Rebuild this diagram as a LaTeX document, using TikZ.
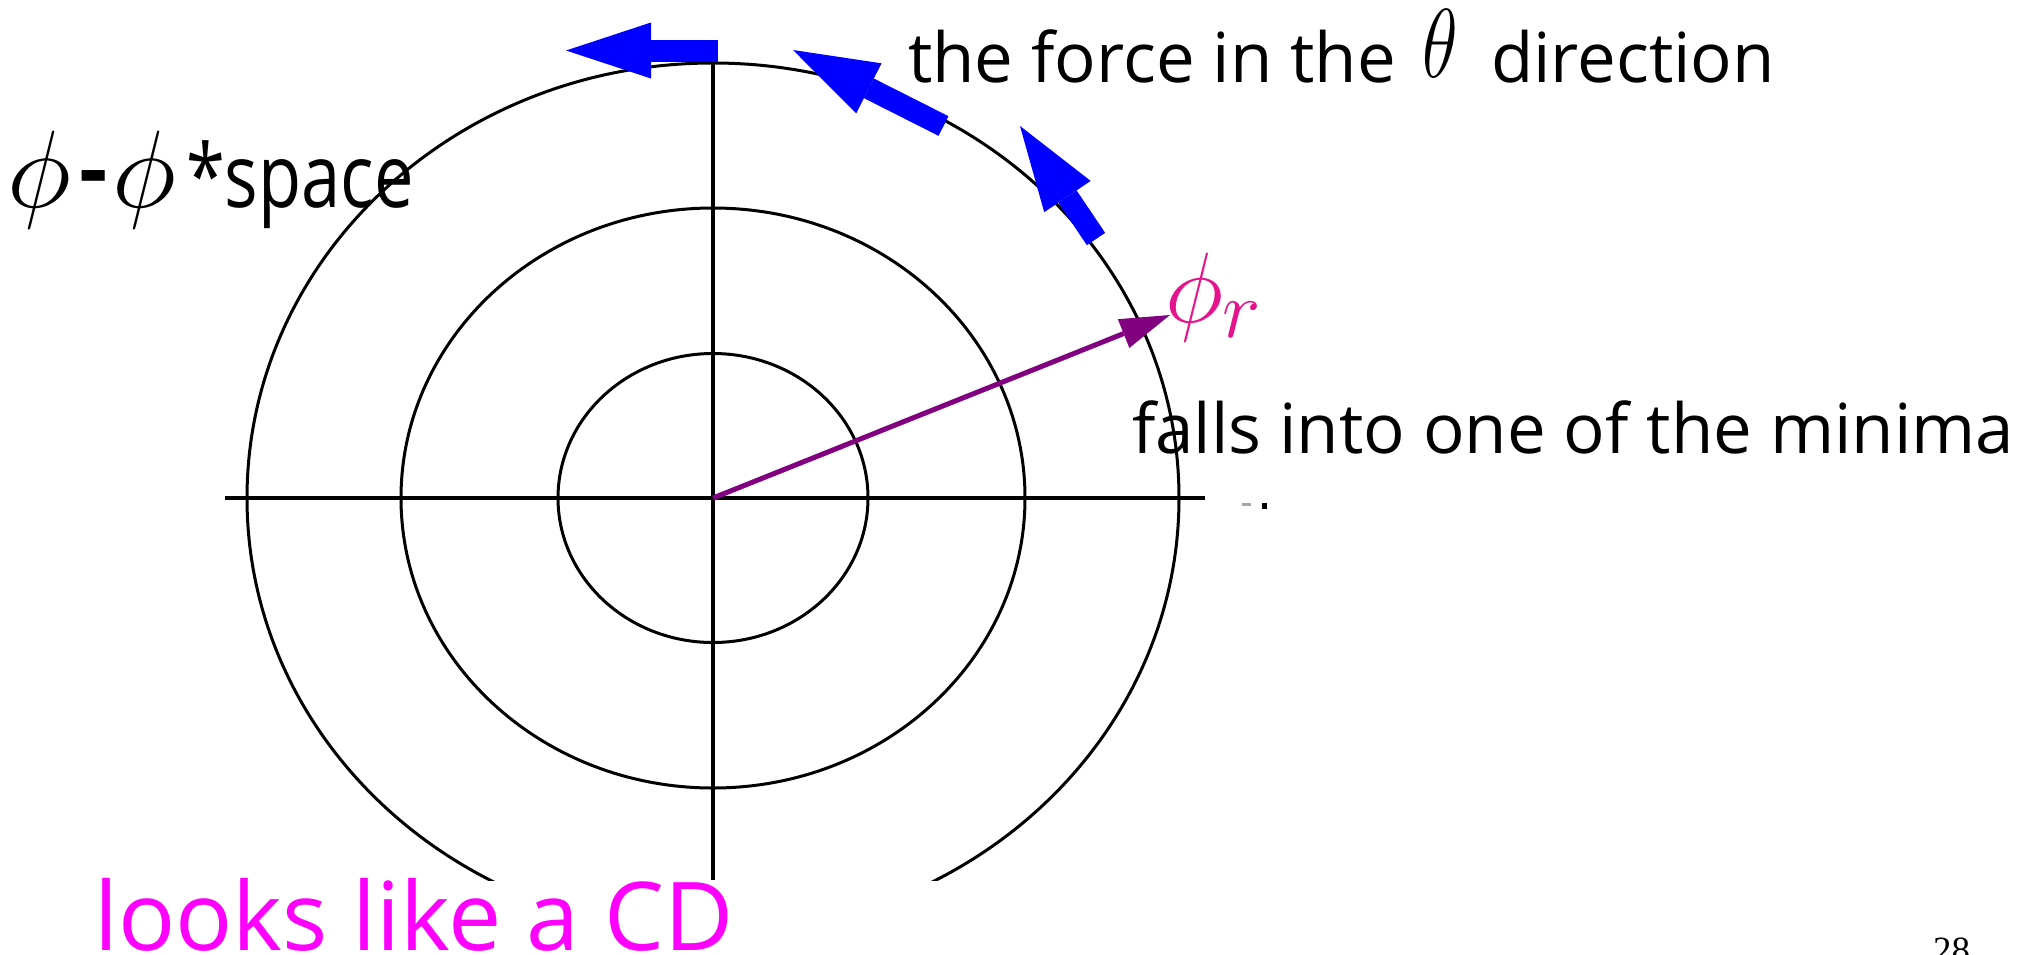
\RequirePackage{fix-cm}
\documentclass[tikz,border=0pt]{standalone}
\usepackage{graphicx}
\usepackage{fontspec}
\setmainfont{Open Sans}
\newfontfamily\serifnum{Liberation Serif}
\usetikzlibrary{arrows.meta}
\definecolor{arrowblue}{RGB}{0,0,255}
\definecolor{vecpurple}{RGB}{128,0,128}
\definecolor{phipink}{RGB}{228,20,140}
\definecolor{cdmagenta}{RGB}{255,0,255}
\DeclareMathSizes{100}{100}{82}{65}
\begin{document}
\begin{tikzpicture}[x=1pt,y=-1pt,
  every node/.style={inner sep=0pt,outer sep=0pt},
  axisline/.style={line width=4pt},
  ring/.style={line width=3pt},
  forcearrow/.style={draw=arrowblue,line width=22pt,-{Triangle[length=85pt,width=56pt,line width=0pt]}},
  radial/.style={draw=vecpurple,line width=5pt,-{Triangle[length=50pt,width=31pt,line width=0pt]}},
  bodytext/.style={font=\fontsize{69}{69}\selectfont}]
\clip (0,0) rectangle (2039,954);
\useasboundingbox (0,0) rectangle (2039,954);
% axes
\coordinate (O) at (713,498);
\coordinate (xl) at (225,498);
\coordinate (xr) at (1205,498);
\coordinate (yt) at (713,63);
\coordinate (yb) at (713,880);
\draw[axisline] (xl) -- (xr);
\draw[axisline] (yt) -- (yb);
% rings
\draw[ring] (O) ellipse [x radius=155, y radius=144.5];
\draw[ring] (O) ellipse [x radius=312, y radius=290];
\begin{scope}
  \clip (0,0) rectangle (2039,880);
  \draw[ring] (O) ellipse [x radius=466, y radius=435];
\end{scope}
% small mark right of axis
\fill[black!35] (1242,503) rectangle (1251,505.5);
\fill (1262,503) rectangle (1267,509);
% radial vector
\coordinate (Ptip) at (1170,315);
\draw[radial] (O) -- (Ptip);
% force arrows
\coordinate (f1t) at (718,50.5);
\coordinate (f1h) at (566,50.5);
\coordinate (f2t) at (943.5,126);
\coordinate (f2h) at (793,50);
\coordinate (f3t) at (1096,239);
\coordinate (f3h) at (1020,126);
\draw[forcearrow] (f1t) -- (f1h);
\draw[forcearrow] (f2t) -- (f2h);
\draw[forcearrow] (f3t) -- (f3h);
% labels
\node[anchor=base west] (phiA) at (8,207) {\fontsize{110}{110}\selectfont$\phi$};
\node[anchor=base west] (dash) at (79,199) {\fontsize{88}{88}\selectfont\bfseries -};
\node[anchor=base west] (phiB) at (112,207) {\fontsize{110}{110}\selectfont$\phi$};
\node[anchor=base west] (spacelbl) at (186,207) {\scalebox{0.8}[1]{\fontsize{88}{88}\selectfont *space}};
\node[anchor=base west,bodytext] (force) at (908,82) {the force in the};
\node[anchor=base] (theta) at (1440,77) {\scalebox{0.75}[1]{\fontsize{98}{98}\selectfont$\theta$}};
\node[anchor=base west,bodytext] (dir) at (1491,82) {direction};
\node[anchor=base west,text=phipink] (phir) at (1165,322) {\fontsize{100}{100}\selectfont$\phi_r$};
\node[anchor=base west,bodytext] (falls) at (1132,453) {falls into one of the minima};
\node[anchor=base west,text=cdmagenta] (cd) at (94,950) {\fontsize{95}{95}\selectfont looks like a CD};
\node[anchor=base west] (page) at (1933,962) {\serifnum\fontsize{37}{37}\selectfont 28};
\end{tikzpicture}
\end{document}
